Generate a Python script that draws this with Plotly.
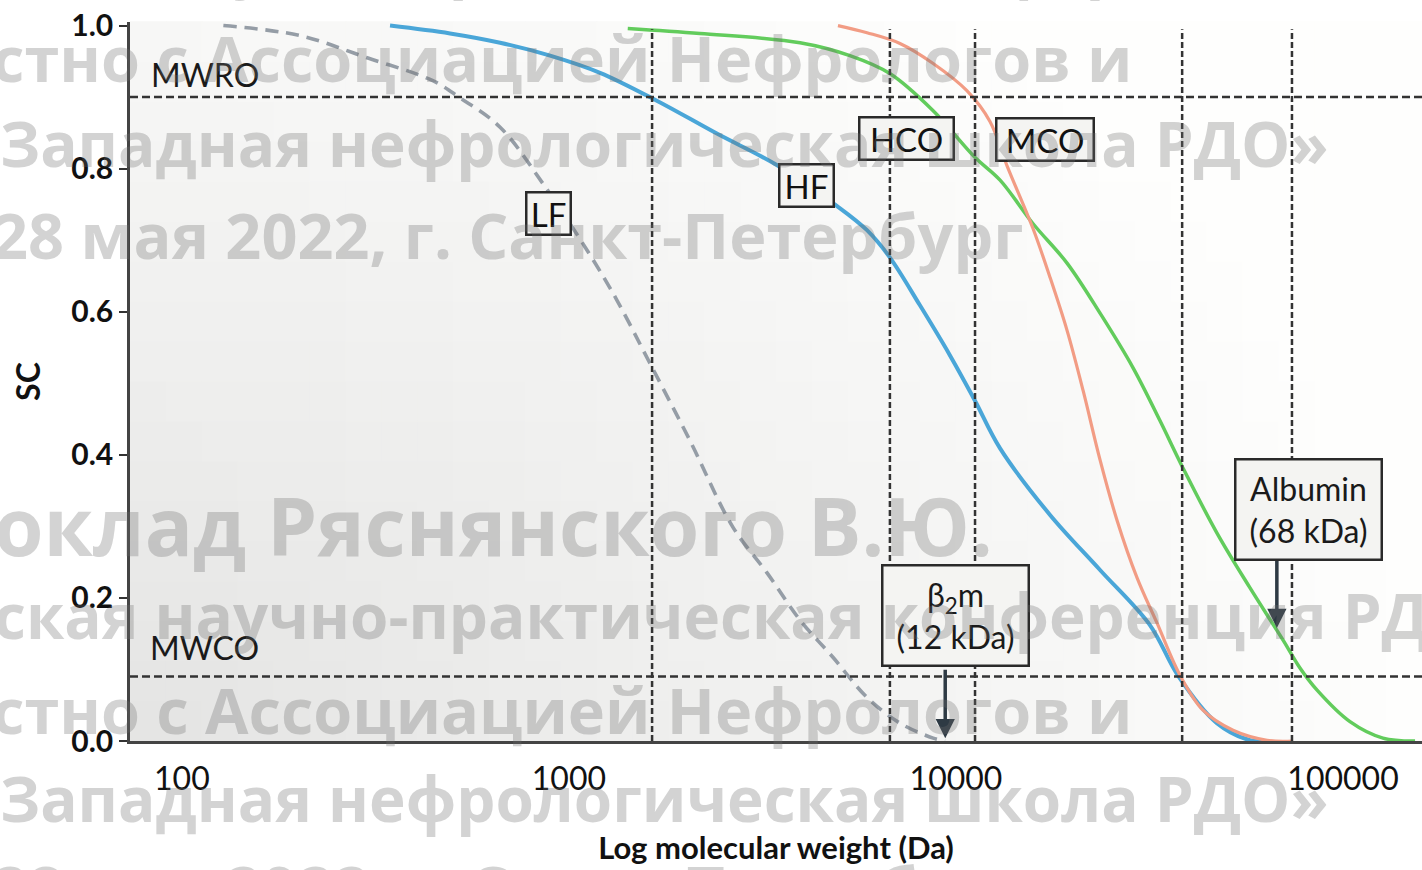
import math
import plotly.graph_objects as go

# ---------------- data (molecular weight in Da, sieving coefficient SC) ----------------
lf_mw = [128, 202, 301, 445, 523, 664, 857, 1114, 1331, 1619, 2054, 2652, 3250, 3955, 4810, 5890, 7165, 8730, 9370]
lf_sc = [1.0, 0.986, 0.955, 0.923, 0.899, 0.858, 0.779, 0.686, 0.616, 0.528, 0.420, 0.299, 0.235, 0.169, 0.117, 0.061, 0.025, 0.004, 0.0]

hf_mw = [345, 493, 664, 894, 1203, 1687, 2411, 3443, 4920, 5890, 6745, 8070, 9650, 11190, 13000, 17500, 23560, 31700, 37500, 47200, 57500, 61800]
hf_sc = [1.0, 0.989, 0.976, 0.958, 0.934, 0.895, 0.849, 0.805, 0.748, 0.714, 0.676, 0.609, 0.539, 0.476, 0.409, 0.316, 0.239, 0.162, 0.091, 0.025, 0.001, 0.0]

hco_mw = [1419, 2181, 3955, 5320, 6745, 8730, 11190, 13000, 15820, 19360, 23560, 28650, 33640, 38640, 47200, 57500, 70000, 77400, 85700, 104200, 126800, 153500]
hco_sc = [0.996, 0.989, 0.976, 0.958, 0.933, 0.881, 0.816, 0.784, 0.723, 0.668, 0.598, 0.522, 0.448, 0.381, 0.291, 0.214, 0.141, 0.102, 0.071, 0.027, 0.004, 0.0]

mco_mw = [4955, 5890, 7165, 8730, 10670, 12240, 13550, 15820, 17500, 19360, 21300, 23560, 26050, 29370, 33060, 37900, 43460, 51980, 63660, 74300]
mco_sc = [1.0, 0.990, 0.975, 0.947, 0.909, 0.866, 0.804, 0.716, 0.648, 0.574, 0.490, 0.393, 0.309, 0.228, 0.165, 0.092, 0.043, 0.015, 0.001, 0.0]

ref_mw = [1640, 6750, 11200, 38400, 73800]          # vertical dashed guides
mwro_level = 0.9
mwco_level = 0.09

x_ticks = [100, 1000, 10000, 100000]
x_ticktext = ["100", "1000", "10000", "100000"]
y_ticks = [0.0, 0.2, 0.4, 0.6, 0.8, 1.0]
y_ticktext = ["0.0", "0.2", "0.4", "0.6", "0.8", "1.0"]

curve_labels = ["LF", "HF", "HCO", "MCO"]
curve_label_mw = [883, 4121, 7430, 16980]
curve_label_sc = [0.737, 0.777, 0.842, 0.841]
curve_label_w = [40, 50, 90, 93]

marker_text = ["β<sub>2</sub>m<br>(12 kDa)", "Albumin<br>(68 kDa)"]
marker_box_mw = [10000, 81660]
marker_box_sc = [0.175, 0.324]
marker_tip_mw = [9380, 67450]
marker_tip_sc = [0.004, 0.158]

watermark = [
    ("ская научно-практическая конференция РДО", -8, -38, 62),
    ("стно с Ассоциацией Нефрологов и", -10, 57, 63),
    ("Западная нефрологическая школа РДО»", -2, 143, 62),
    ("28 мая 2022, г. Санкт-Петербург", -10, 234, 63),
    ("оклад Ряснянского В.Ю.", -8, 524, 80),
    ("ская научно-практическая конференция РДО", -8, 615, 62),
    ("стно с Ассоциацией Нефрологов и", -10, 709, 63),
    ("Западная нефрологическая школа РДО»", -2, 798, 62),
    ("28 мая 2022, г. Санкт-Петербург", -10, 887, 63),
]

# ---------------- layout geometry ----------------
W, H = 1422, 870
ML, MR, MT, MB = 130, 0, 22, 129
PW, PH = W - ML - MR, H - MT - MB
FONT = "Lato, 'Open Sans', sans-serif"

fig = go.Figure()

# curves
fig.add_trace(go.Scatter(x=lf_mw, y=lf_sc, mode="lines", name="LF",
                         line=dict(color="#959da6", width=3.6, dash="13px,8px", shape="spline", smoothing=1.0)))
fig.add_trace(go.Scatter(x=hf_mw, y=hf_sc, mode="lines", name="HF",
                         line=dict(color="#4aa6d8", width=4, shape="spline", smoothing=1.0)))
fig.add_trace(go.Scatter(x=hco_mw, y=hco_sc, mode="lines", name="HCO",
                         line=dict(color="#62cc5c", width=3.5, shape="spline", smoothing=1.0)))
fig.add_trace(go.Scatter(x=mco_mw, y=mco_sc, mode="lines", name="MCO",
                         line=dict(color="#f29c84", width=3.2, shape="spline", smoothing=1.0)))

# vertical dashed guides
for v in ref_mw:
    fig.add_trace(go.Scatter(x=[v, v], y=[0, 0.995], mode="lines", showlegend=False, hoverinfo="skip",
                             line=dict(color="#333333", width=2.5, dash="6px,3px")))

shapes = []
# soft background gradient (plot area)
NC, NR = 36, 18
for i in range(NC):
    for j in range(NR):
        fx = (i + 0.5) / NC
        fy = (j + 0.5) / NR
        d = min(1.0, math.sqrt(fx ** 2 + (fy / 1.3) ** 2))
        g = int(round(228 + 26 * d))
        shapes.append(dict(type="rect", xref="paper", yref="paper", layer="below",
                           x0=i / NC, x1=(i + 1) / NC + 0.001, y0=j / NR, y1=(j + 1) / NR + 0.001,
                           line=dict(width=0), fillcolor=f"rgb({g},{g},{g-1})"))
# MWRO / MWCO horizontal dashed lines
for lvl in (mwro_level, mwco_level):
    shapes.append(dict(type="line", xref="paper", yref="y", x0=0, x1=1, y0=lvl, y1=lvl,
                       line=dict(color="#333333", width=2.5, dash="8px,4px"), layer="above"))

annotations = []
lx = math.log10
annotations.append(dict(x=lx(114.7), y=0.932, xref="x", yref="y", text="MWRO", showarrow=False,
                        font=dict(family=FONT, size=32, color="#1a1a1a")))
annotations.append(dict(x=lx(114.7), y=0.131, xref="x", yref="y", text="MWCO", showarrow=False,
                        font=dict(family=FONT, size=32, color="#1a1a1a")))

for t, m, s, w in zip(curve_labels, curve_label_mw, curve_label_sc, curve_label_w):
    annotations.append(dict(x=lx(m), y=s, xref="x", yref="y", text=t, showarrow=False,
                            font=dict(family=FONT, size=33, color="#111"),
                            bgcolor="#f4f4f2", bordercolor="#2a2a2a", borderwidth=2.5, borderpad=1,
                            width=w, height=38))

for t, bm, bs, tm, ts in zip(marker_text, marker_box_mw, marker_box_sc, marker_tip_mw, marker_tip_sc):
    annotations.append(dict(x=lx(tm), y=ts, xref="x", yref="y", text="", showarrow=True,
                            ax=0, ay=-70, arrowhead=2, arrowsize=1.1, arrowwidth=3.5, arrowcolor="#2e3a44"))
    annotations.append(dict(x=lx(bm), y=bs, xref="x", yref="y", text=t, showarrow=False,
                            font=dict(family=FONT, size=32, color="#1a1a1a"),
                            bgcolor="#f4f4f2", bordercolor="#2a2a2a", borderwidth=2.5, borderpad=2,
                            width=140, height=94))

for text, px, py, size in watermark:
    annotations.append(dict(x=(px - ML) / PW, y=(H - MB - py) / PH, xref="paper", yref="paper",
                            xanchor="left", yanchor="middle", text=text, showarrow=False,
                            font=dict(family="Open Sans", size=size, color="rgba(110,110,110,0.30)", weight="bold")))

fig.update_layout(
    width=W, height=H,
    margin=dict(l=ML, r=MR, t=MT, b=MB),
    paper_bgcolor="white", plot_bgcolor="white",
    showlegend=False,
    shapes=shapes,
    annotations=annotations,
    xaxis=dict(type="log", range=[1.866, 5.204], tickvals=x_ticks, ticktext=x_ticktext, automargin=False,
               showgrid=False, zeroline=False, showline=True, linecolor="#444444", linewidth=2.5,
               ticks="outside", ticklen=8, tickcolor="rgba(0,0,0,0)",
               tickfont=dict(family=FONT, size=32, color="#111"),
               title=dict(text="Log molecular weight (Da)", standoff=42,
                          font=dict(family=FONT, size=31, color="#111", weight="bold"))),
    yaxis=dict(range=[0, 1.005], tickvals=y_ticks, ticktext=y_ticktext, automargin=False,
               showgrid=False, zeroline=False, showline=True, linecolor="#444444", linewidth=2.5,
               ticks="outside", ticklen=8, tickwidth=2, tickcolor="#333",
               tickfont=dict(family=FONT, size=30, color="#111", weight="bold"),
               title=dict(text="SC", standoff=22,
                          font=dict(family=FONT, size=32, color="#111", weight="bold"))),
)

fig.write_html("out.html", config={"displayModeBar": False},
               post_script="document.body.style.margin='0';document.body.style.padding='0';")
